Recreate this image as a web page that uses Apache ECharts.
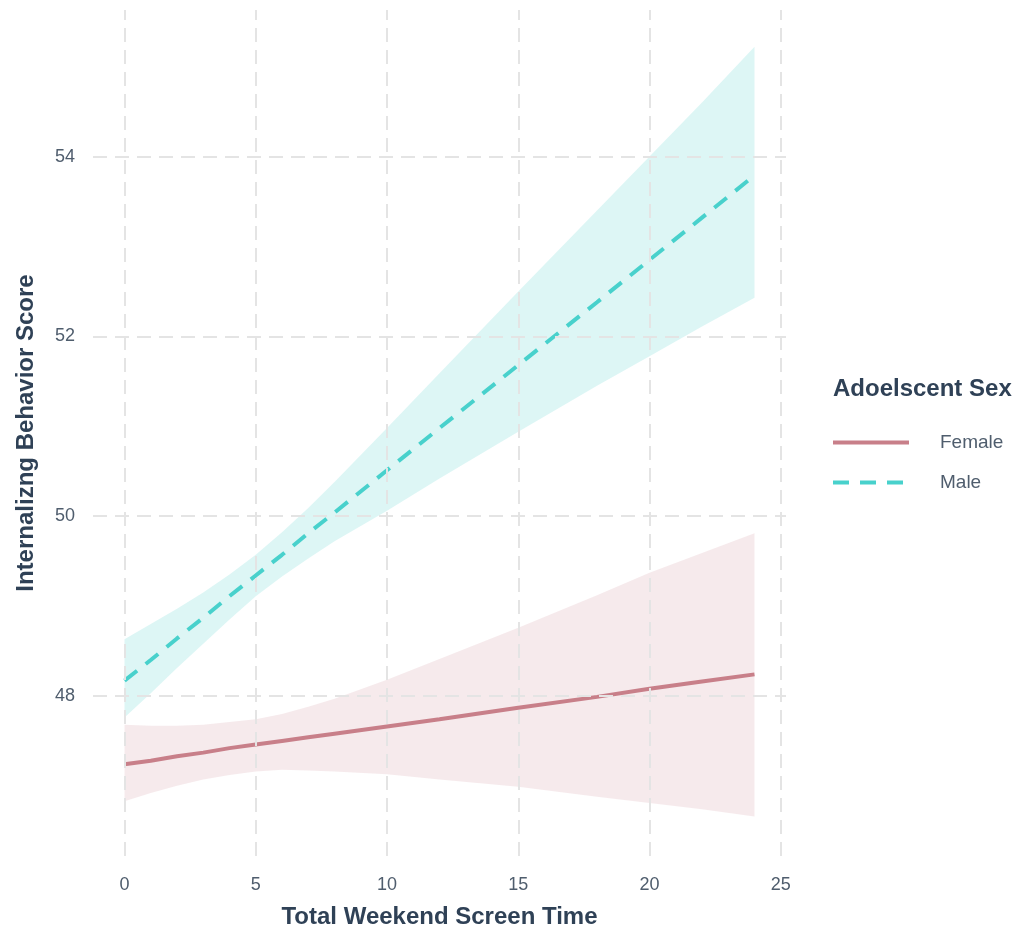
<!DOCTYPE html>
<html>
<head>
<meta charset="utf-8">
<title>Internalizing Behavior Score by Weekend Screen Time</title>
<script src="https://cdn.jsdelivr.net/npm/echarts@6/dist/echarts.min.js"></script>
<style>
  html, body { margin: 0; padding: 0; background: #ffffff; }
  #chart { width: 1021px; height: 934px; }
</style>
</head>
<body>
<div id="chart"></div>
<script>
// Screen time values at which the fitted lines and their bands are drawn
const screenTime = [0, 1, 2, 3, 4, 5, 6, 7, 8, 10, 12, 15, 18, 20, 22, 24];

// Female: fitted score and 95% confidence band
const femaleFit   = [47.24, 47.28, 47.33, 47.37, 47.42, 47.46, 47.50, 47.54, 47.58, 47.66, 47.74, 47.87, 47.99, 48.08, 48.16, 48.24];
const femaleUpper = [47.68, 47.67, 47.67, 47.68, 47.71, 47.74, 47.80, 47.88, 47.97, 48.18, 48.41, 48.76, 49.12, 49.37, 49.59, 49.81];
const femaleLower = [46.83, 46.92, 47.00, 47.07, 47.12, 47.16, 47.18, 47.17, 47.16, 47.13, 47.07, 46.99, 46.88, 46.81, 46.74, 46.66];

// Male: fitted score and 95% confidence band
const maleFit   = [48.17, 48.40, 48.64, 48.87, 49.11, 49.34, 49.57, 49.81, 50.04, 50.51, 50.98, 51.68, 52.38, 52.85, 53.32, 53.79];
const maleUpper = [48.63, 48.80, 48.97, 49.15, 49.35, 49.57, 49.82, 50.09, 50.38, 50.98, 51.59, 52.50, 53.40, 54.00, 54.60, 55.22];
const maleLower = [47.76, 48.03, 48.31, 48.58, 48.85, 49.11, 49.33, 49.53, 49.72, 50.06, 50.42, 50.94, 51.45, 51.78, 52.11, 52.43];

// Axis ticks
const xTicks = [0, 5, 10, 15, 20, 25];
const yTicks = [48, 50, 52, 54];

const groupNames = ['Female', 'Male'];

const femaleColor = '#C87F89';
const maleColor = '#48D1CC';
const tickColor = '#4f5d6d';
const titleColor = '#2f4156';
const gridColor = '#e4e4e4';

const pairs = (ys) => screenTime.map((x, i) => [x, ys[i]]);

const gridLineStyle = { color: gridColor, width: 2, type: [14, 8] };

// Confidence band: one filled polygon, upper edge left to right then lower edge back
function bandSeries(name, upper, lower, fill) {
  return {
    name: name,
    type: 'custom',
    silent: true,
    z: 2,
    data: screenTime.map((x, i) => [x, lower[i], upper[i]]),
    encode: { x: 0, y: [1, 2] },
    renderItem: function (params, api) {
      if (params.dataIndex !== 0) return null;
      const top = screenTime.map((x, i) => api.coord([x, upper[i]]));
      const bottom = screenTime.map((x, i) => api.coord([x, lower[i]])).reverse();
      return {
        type: 'group',
        children: [
          { type: 'polyline', shape: { points: top.concat(bottom), smooth: 0 }, style: { fill: fill, stroke: null } }
        ]
      };
    }
  };
}

const chart = echarts.init(document.getElementById('chart'), null, { renderer: 'canvas' });

chart.setOption({
  backgroundColor: '#ffffff',
  animation: false,
  title: {
    text: 'Adoelscent Sex',
    left: 833,
    top: 377,
    padding: 0,
    textStyle: { fontFamily: 'Liberation Sans', fontSize: 24, fontWeight: 'bold', color: titleColor }
  },
  legend: {
    data: groupNames,
    orient: 'vertical',
    left: 831,
    top: 433,
    padding: 0,
    itemWidth: 76,
    itemHeight: 14,
    itemGap: 21,
    selectedMode: false,
    itemStyle: { opacity: 0 },
    lineStyle: { width: 4 },
    textStyle: { fontFamily: 'Liberation Sans', fontSize: 19, color: tickColor, padding: [0, 0, 0, 26] }
  },
  grid: { left: 93, right: 235, top: 10, bottom: 77, containLabel: false },
  xAxis: {
    type: 'value',
    min: -1.2,
    max: 25.2,
    name: 'Total Weekend Screen Time',
    nameLocation: 'middle',
    nameGap: 49,
    nameTextStyle: { fontFamily: 'Liberation Sans', fontSize: 24, fontWeight: 'bold', color: titleColor },
    axisLine: { show: false },
    axisTick: { show: false, customValues: xTicks },
    splitLine: { show: false },
    axisLabel: { customValues: xTicks, margin: 20, fontFamily: 'Liberation Sans', fontSize: 18, color: tickColor }
  },
  yAxis: {
    type: 'value',
    min: 46.22,
    max: 55.63,
    name: 'Internalizng Behavior Score',
    nameLocation: 'middle',
    nameGap: 55,
    nameTextStyle: { fontFamily: 'Liberation Sans', fontSize: 24, fontWeight: 'bold', color: titleColor },
    axisLine: { show: false },
    axisTick: { show: false, customValues: yTicks },
    splitLine: { show: false },
    axisLabel: { customValues: yTicks, margin: 18, fontFamily: 'Liberation Sans', fontSize: 18, color: tickColor }
  },
  series: [
    // Dashed major grid lines
    {
      name: 'grid',
      type: 'line',
      data: [],
      silent: true,
      z: 1,
      markLine: {
        silent: true,
        symbol: 'none',
        label: { show: false },
        lineStyle: gridLineStyle,
        data: xTicks.map(v => ({ xAxis: v })).concat(yTicks.map(v => ({ yAxis: v })))
      }
    },
    bandSeries('femaleBand', femaleUpper, femaleLower, 'rgba(200,130,145,0.17)'),
    bandSeries('maleBand', maleUpper, maleLower, 'rgba(72,209,204,0.19)'),
    // Fitted lines
    {
      name: 'Female',
      type: 'line',
      data: pairs(femaleFit),
      symbol: 'none',
      color: femaleColor,
      lineStyle: { color: femaleColor, width: 4 },
      z: 3
    },
    {
      name: 'Male',
      type: 'line',
      data: pairs(maleFit),
      symbol: 'none',
      color: maleColor,
      lineStyle: { color: maleColor, width: 4, type: [16, 11] },
      z: 3
    }
  ]
});
</script>
</body>
</html>
